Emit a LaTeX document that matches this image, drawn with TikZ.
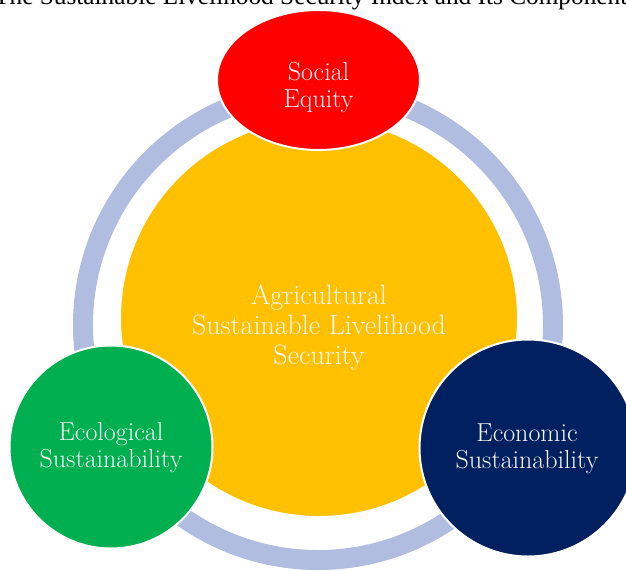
\documentclass[tikz,border=0pt]{standalone}
\usepackage{fontspec}
\usetikzlibrary{shapes.geometric}
\newfontfamily\capfont{Liberation Serif}

\definecolor{ringblue}{RGB}{176,188,224}
\definecolor{agriyellow}{RGB}{255,192,0}
\definecolor{socialred}{RGB}{255,0,0}
\definecolor{ecogreen}{RGB}{0,176,80}
\definecolor{econavy}{RGB}{0,32,96}
\definecolor{labelwhite}{RGB}{246,246,246}

\tikzset{
  part/.style={circle, inner sep=0pt, draw=white, line width=2pt},
  label text/.style={text=labelwhite, align=center,
    font=\fontsize{26}{27}\selectfont}
}

\begin{document}
\begin{tikzpicture}[x=1pt, y=-1pt]
    \useasboundingbox (0,0) rectangle (626,570);
    \clip (0,0) rectangle (626,570);

    \node[anchor=base west, inner sep=0pt, font=\capfont\fontsize{25.3}{28}\selectfont]
    (caption) at (-6,5) {The Sustainable Livelihood Security Index and Its Components};

    \draw[ringblue, line width=20pt] (318,325) circle[radius=235];

    \node[part, fill=agriyellow, minimum size=398pt] (agri) at (319,318) {};

    \node[ellipse, inner sep=0pt, draw=white, line width=2pt, fill=socialred,
      minimum width=203pt, minimum height=140pt] (social) at (318.5,80) {};

    \node[part, fill=ecogreen, minimum size=203pt] (eco) at (111,447) {};

    \node[part, fill=econavy, minimum size=217pt] (econ) at (528,448) {};

    \node[label text] at (social.center) [yshift=-8pt] {Social\\Equity};
    \node[label text, font=\fontsize{28}{30}\selectfont] at (agri.center) [yshift=-9pt]
    {Agricultural\\Sustainable Livelihood\\Security};
    \node[label text] at (eco.center) [yshift=-1pt] {Ecological\\Sustainability};
    \node[label text] at (econ.center) [xshift=-1pt, yshift=-1pt] {Economic\\Sustainability};

  \end{tikzpicture}
\end{document}
